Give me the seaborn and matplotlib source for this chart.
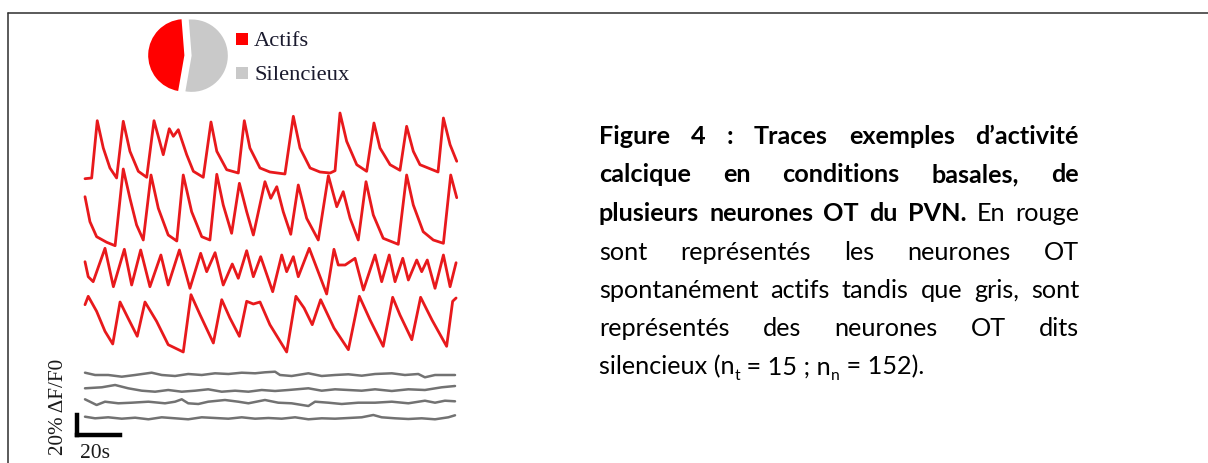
import matplotlib
matplotlib.use("Agg")
import matplotlib.pyplot as plt
from matplotlib.lines import Line2D
from matplotlib.patches import Rectangle
import pandas as pd
import seaborn as sns

sns.set_style("white")
plt.rcParams["font.family"] = ["DejaVu Sans"]

W, H, DPI = 1208, 463, 100

# ---- proportion of cells -------------------------------------------------
pie_labels = ["Actifs", "Silencieux"]
pie_shares = [46, 54]
pie_colors = ["#ff0000", "#c9c9c9"]

# ---- spontaneously active OT neurons: time (s) / dF/F0 (%) ---------------
act1_t = [0, 3.1, 5.7, 8.5, 11.6, 14.7, 17.8, 20.9, 24.8, 28.7, 32.1, 36.4, 39.2, 41.1,
          43.4, 47.3, 50.4, 55.0, 58.6, 61.3, 65.9, 71.3, 74.1, 76.7, 81.4, 86.0, 93.0,
          96.9, 100.0, 104.7, 109.3, 114.0, 116.3, 118.6, 121.7, 126.4, 131.0, 134.4,
          137.2, 141.9, 146.5, 149.6, 152.7, 155.8, 164.2, 166.7, 169.8, 172.9]
act1_v = [1.3, 2, 59.3, 32, 12, 2, 58.7, 28.7, 8.7, 2.7, 59.3, 25.3, 51.3, 43.7, 50.3,
          25.3, 8.7, 2.7, 58, 28.7, 10.3, 7, 59.3, 32, 12, 8, 6, 63.7, 32, 12, 8, 7, 9.3,
          67, 38.7, 15.3, 8.7, 57, 32, 15.3, 9.7, 53.7, 28.7, 15.3, 8, 62, 35.3, 18.7]

act2_t = [0, 2.3, 5.4, 10.1, 14.0, 17.8, 20.9, 24.0, 27.1, 30.7, 34.1, 38.7, 42.7, 45.7,
          49.6, 54.3, 58.1, 61.3, 64.3, 68.2, 71.8, 75.2, 78.3, 83.7, 86.4, 89.2, 92.2,
          95.7, 99.2, 103.1, 108.5, 113.2, 117.1, 120.1, 123.3, 127.1, 130.7, 134.1,
          138.7, 145.7, 149.6, 152.7, 157.3, 162.0, 166.7, 170.1, 172.9]
act2_v = [49.3, 24.3, 9.3, 3.7, 0.3, 77, 47.7, 21, 6, 71, 37.7, 11, 5, 71, 34.3, 9.3, 6,
          71.7, 41, 12.7, 62.7, 34.3, 11, 64.3, 47.7, 59.3, 34.3, 11.7, 61, 27.7, 6, 70.3,
          39.3, 54.3, 27.7, 6, 64.3, 31, 7.7, 1.7, 71, 41, 14.3, 6, 2.7, 71, 48.3]

act3_t = [0, 1.5, 3.8, 9.3, 13.2, 18.3, 21.7, 25.9, 30.2, 35.3, 38.7, 43.9, 48.8, 53.8,
          56.6, 60.5, 64.3, 68.5, 71.3, 75.2, 78.3, 81.7, 87.3, 91.5, 93.8, 96.9, 99.2,
          104.3, 112.4, 115.8, 117.8, 121.0, 125.6, 129.5, 134.9, 138.0, 141.5, 144.2,
          147.8, 150.4, 154.3, 156.6, 159.2, 162.8, 166.7, 169.8, 172.6]
act3_v = [33.3, 18.3, 13.3, 46.7, 8.3, 45.7, 10, 45, 8.3, 40, 10, 45, 6.7, 41.7, 23.3,
          42.3, 10, 31, 16.7, 44.3, 18.3, 38.3, 3.3, 40, 23.3, 38.3, 18.3, 46.7, 1, 45.7,
          30, 30, 36.7, 5, 40, 13.3, 40, 13.3, 36.7, 15, 35, 23.3, 35, 6.7, 40, 8.3, 32.3]

act4_t = [0, 1.5, 5.4, 9.3, 12.9, 16.3, 20.0, 24.3, 27.9, 33.3, 38.7, 45.7, 49.3, 53.5,
          59.7, 63.6, 67.4, 71.8, 75.2, 78.3, 81.4, 86.0, 93.8, 98.1, 101.9, 105.7, 109.6,
          115.8, 122.5, 127.6, 132.6, 138.7, 143.1, 146.5, 152.0, 156.1, 161.4, 168.2,
          171.0, 172.6]
act4_v = [48.3, 56.7, 41.7, 21.7, 9, 51, 35, 16.7, 51, 31.7, 8.3, 1, 58.3, 38.3, 10,
          53.3, 35, 16.7, 51.7, 49, 51, 28.3, 1, 56.7, 45, 28.3, 53.3, 25, 3.3, 56.7, 33,
          6.7, 55.7, 38, 13.3, 55.7, 33, 6.7, 51.7, 55]

# ---- silent OT neurons ---------------------------------------------------
sil1_t = [0, 4.7, 10.8, 17.1, 23.3, 31.0, 35.7, 41.9, 48.0, 54.3, 60.5, 66.7, 72.9, 79.1,
          83.7, 88.4, 90.7, 96.1, 103.9, 110.1, 116.3, 122.5, 128.7, 134.9, 142.7, 148.8,
          155.0, 158.1, 162.8, 172.1]
sil1_v = [5.3, 3, 3, 1.3, 3, 5.3, 3, 2, 4, 3, 4.7, 4, 5.3, 4.7, 5.7, 6.3, 3, 2, 4.7, 2, 3,
          3.7, 2.3, 4, 4.7, 3, 4, 0.7, 3, 3]

sil2_t = [0, 7.8, 14.0, 20.1, 26.4, 32.6, 38.7, 45.0, 51.2, 57.3, 63.6, 69.8, 76.0, 82.2,
          88.4, 94.6, 103.9, 110.1, 116.3, 122.5, 128.7, 134.9, 142.7, 150.4, 158.1,
          165.9, 172.1]
sil2_v = [4.7, 5.7, 8, 4.7, 2.3, 1.3, 3, 1.3, 2.3, 3.7, 1.3, 2.3, 1.3, 3, 2, 3, 4.7, 2.3,
          3.7, 3, 2.3, 3.7, 2, 3.7, 3, 5.7, 7]

sil3_t = [0, 2.3, 5.4, 9.3, 15.5, 21.7, 29.5, 37.2, 41.9, 45.0, 48.0, 52.7, 57.3, 65.1,
          71.3, 76.0, 83.7, 89.9, 96.1, 103.9, 107.0, 113.2, 119.4, 127.1, 134.9, 142.7,
          150.4, 158.1, 162.8, 167.4, 172.1]
sil3_v = [7.7, 5.3, 2, 5.3, 3.7, 4.3, 5.3, 3.7, 5.3, 7.7, 3.7, 3, 5.3, 7, 5.3, 3.7, 7,
          4.3, 3.7, 1, 5.3, 4.3, 3, 4.3, 4.3, 5.3, 3.7, 6.3, 4.3, 6.3, 5.7]

sil4_t = [0, 4.7, 10.8, 17.1, 23.3, 29.5, 35.7, 41.9, 48.0, 54.3, 60.5, 66.7, 72.9, 79.1,
          85.3, 91.5, 97.7, 103.9, 110.1, 116.3, 122.5, 128.7, 134.1, 138.0, 144.2, 150.4,
          156.6, 162.8, 169.0, 172.1]
sil4_v = [3.3, 1.7, 2.7, 1.3, 2.3, 0.7, 2.7, 1.7, 0.7, 2.7, 2, 1.3, 2.7, 1.3, 2, 1.3, 2.7,
          0.7, 1.7, 1.3, 2, 2.7, 5, 2.7, 1.7, 1, 1.7, 0.7, 2.7, 4.7]

# vertical stacking of the traces (in % dF/F0)
active_offsets = [265, 199, 150, 92]
silent_offsets = [67, 52, 38, 25]
active_color = "#e8191c"
silent_color = "#727272"

scale_time = 20   # s
scale_dff = 20    # %
scale_time_label = "20s"
scale_dff_label = "20% \u0394F/F0"

caption_lines = [
    "Figure 4 : Traces exemples d\u2019activit\u00e9",
    "calcique en conditions basales, de",
    "plusieurs neurones OT du PVN. En rouge",
    "sont repr\u00e9sent\u00e9s les neurones OT",
    "spontan\u00e9ment actifs tandis que gris, sont",
    "repr\u00e9sent\u00e9s des neurones OT dits",
]
caption_bold_words = 16
caption_last = [("silencieux (n", "n"), ("t", "sub"), (" = 15 ; n", "n"),
                ("n", "sub"), (" = 152).", "n")]


def fx(x):
    return x / W


def fy(y):
    return 1 - y / H


def add_axes_px(x0, y0, x1, y1):
    return fig.add_axes([fx(x0), fy(y1), (x1 - x0) / W, (y1 - y0) / H])


fig = plt.figure(figsize=(W / DPI, H / DPI), dpi=DPI)
fig.patch.set_facecolor("white")

# ---- frame -----------------------------------------------------------------
fig.add_artist(Line2D([fx(8), 1.0], [fy(13), fy(13)], transform=fig.transFigure,
                      color="#2e2e2e", lw=1.1))
fig.add_artist(Line2D([fx(8), fx(8)], [fy(13), 0.0], transform=fig.transFigure,
                      color="#2e2e2e", lw=1.1))

# ---- traces ---------------------------------------------------------------
rows = []
series = [(act1_t, act1_v), (act2_t, act2_v), (act3_t, act3_v), (act4_t, act4_v)]
for k, ((tt, vv), off) in enumerate(zip(series, active_offsets)):
    for t, v in zip(tt, vv):
        rows.append({"time": t, "y": v + off, "trace": f"a{k}"})
series = [(sil1_t, sil1_v), (sil2_t, sil2_v), (sil3_t, sil3_v), (sil4_t, sil4_v)]
for k, ((tt, vv), off) in enumerate(zip(series, silent_offsets)):
    for t, v in zip(tt, vv):
        rows.append({"time": t, "y": v + off, "trace": f"s{k}"})
df = pd.DataFrame(rows)
palette = {f"a{k}": active_color for k in range(4)}
palette.update({f"s{k}": silent_color for k in range(4)})

ax = add_axes_px(70, 100, 470, 445)
line_kw = dict(solid_joinstyle="round", solid_capstyle="round")
sns.lineplot(data=df[df.trace.str.startswith("s")], x="time", y="y", hue="trace",
             palette=palette, estimator=None, sort=False, legend=False, lw=1.8, ax=ax,
             **line_kw)
sns.lineplot(data=df[df.trace.str.startswith("a")], x="time", y="y", hue="trace",
             palette=palette, estimator=None, sort=False, legend=False, lw=2.0, ax=ax,
             **line_kw)
ax.set_xlim(-15 / 2.15, 385 / 2.15)
ax.set_ylim(0, 345)
ax.axis("off")

# scale bar
t0, y0 = -3.5, 10
ax.plot([t0, t0 + scale_time], [y0, y0], color="black", lw=3.2, solid_capstyle="projecting")
ax.plot([t0, t0], [y0, y0 + scale_dff], color="black", lw=3.2, solid_capstyle="projecting")

serif = ["Liberation Serif", "DejaVu Serif"]
fig.text(fx(80), fy(458), scale_time_label, family=serif, fontsize=15.5,
         ha="left", va="baseline", color="#1b1b1b")
fig.text(fx(63), fy(359), scale_dff_label, family=serif, fontsize=15.2, rotation=90,
         rotation_mode="anchor", ha="right", va="baseline", color="#1b1b1b")

# ---- pie --------------------------------------------------------------------
r_px = 36.2
lim = 1.3
cx, cy = 188, 55.5
axp = add_axes_px(cx - lim * r_px, cy - lim * r_px, cx + lim * r_px, cy + lim * r_px)
axp.pie(pie_shares, colors=pie_colors, startangle=94.5, explode=[0.1, 0.1],
        wedgeprops=dict(linewidth=0))
axp.set_xlim(-lim, lim)
axp.set_ylim(-lim, lim)
axp.set_aspect("equal")
axp.axis("off")

for i, (lab, col) in enumerate(zip(pie_labels, pie_colors)):
    top = 33 + 34 * i
    fig.add_artist(Rectangle((fx(236), fy(top + 12)), 12 / W, 12 / H,
                             transform=fig.transFigure, facecolor=col, edgecolor="none"))
    fig.text(fx(254), fy(top + 13), lab, family=serif, fontsize=16.2,
             ha="left", va="baseline", color="#1a1a2e")

# ---- caption (justified) ---------------------------------------------------
cap_font = ["Lato", "DejaVu Sans"]
cap_size = 18.2
left, right = 599, 1079
baselines = [144, 182.5, 221, 259.5, 297.8, 336.2, 374.6]
renderer = fig.canvas.get_renderer()

word_index = 0
for li, line in enumerate(caption_lines):
    words = line.split(" ")
    arts = []
    for w in words:
        weight = "bold" if word_index < caption_bold_words else "normal"
        word_index += 1
        t = fig.text(0, fy(baselines[li]), w, family=cap_font, fontsize=cap_size,
                     fontweight=weight, ha="left", va="baseline", color="black")
        arts.append(t)
    widths = [a.get_window_extent(renderer).width for a in arts]
    gap = (right - left - sum(widths)) / (len(arts) - 1)
    x = left
    for a, wd in zip(arts, widths):
        a.set_x(fx(x))
        x += wd + gap

x = left
for piece, kind in caption_last:
    if kind == "sub":
        t = fig.text(fx(x), fy(baselines[-1] + 5), piece, family=cap_font,
                     fontsize=cap_size * 0.62, ha="left", va="baseline", color="black")
    else:
        t = fig.text(fx(x), fy(baselines[-1]), piece, family=cap_font, fontsize=cap_size,
                     ha="left", va="baseline", color="black")
    x += t.get_window_extent(renderer).width

fig.savefig("out.png", dpi=DPI, facecolor="white")
